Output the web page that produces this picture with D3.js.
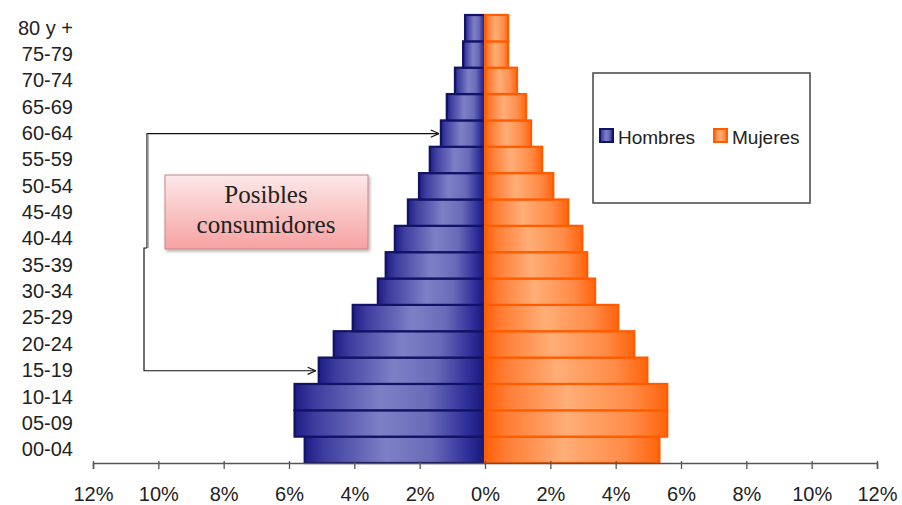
<!DOCTYPE html>
<html>
<head>
<meta charset="utf-8">
<script src="https://cdn.jsdelivr.net/npm/d3@7"></script>
<style>
  html, body { margin: 0; padding: 0; background: #fff; }
  svg { display: block; }
</style>
</head>
<body>
<svg id="chart"></svg>
<script>
// data (percent of population), bottom to top
const ageGroups = ["00-04", "05-09", "10-14", "15-19", "20-24", "25-29", "30-34", "35-39",
    "40-44", "45-49", "50-54", "55-59", "60-64", "65-69", "70-74", "75-79", "80 y +"];
const hombres = [5.52, 5.83, 5.83, 5.09, 4.63, 4.05, 3.28, 3.04, 2.76, 2.36, 2.02, 1.69, 1.35, 1.17, 0.92, 0.67, 0.61];
const mujeres = [5.34, 5.58, 5.58, 4.97, 4.57, 4.08, 3.37, 3.13, 2.98, 2.55, 2.09, 1.75, 1.41, 1.26, 0.98, 0.71, 0.71];
const xTicks = [-12, -10, -8, -6, -4, -2, 0, 2, 4, 6, 8, 10, 12];
const seriesNames = ["Hombres", "Mujeres"];
const annotationLines = ["Posibles", "consumidores"];
const arrowTargets = ["60-64", "15-19"];

const width = 902, height = 505;
const svg = d3.select('#chart').attr('width', width).attr('height', height);

// scales
const x = d3.scaleLinear().domain([-12, 12]).range([93, 877]);
const y = d3.scaleBand().domain(ageGroups.slice().reverse()).range([15, 463]).padding(0);

const rows = ageGroups.map((g, i) => ({ group: g, h: hombres[i], m: mujeres[i] }));

// gradients
const defs = svg.append('defs');
const gBlue = defs.append('linearGradient').attr('id', 'gradBlue');
[[0, '#1c1c84'], [0.1, '#3c3c9e'], [0.45, '#7e80c6'], [0.7, '#6a6bb8'], [0.9, '#30309a'], [1, '#16167a']]
    .forEach(s => gBlue.append('stop').attr('offset', s[0]).attr('stop-color', s[1]));
const gOrange = defs.append('linearGradient').attr('id', 'gradOrange');
[[0, '#ff5f08'], [0.12, '#ff7d34'], [0.45, '#ffae78'], [0.8, '#ff8c48'], [1, '#ff640c']]
    .forEach(s => gOrange.append('stop').attr('offset', s[0]).attr('stop-color', s[1]));
const gPink = defs.append('linearGradient').attr('id', 'gradPink')
    .attr('x1', 0).attr('y1', 0).attr('x2', 0).attr('y2', 1);
[[0, '#fde8e8'], [1, '#f6a2a2']]
    .forEach(s => gPink.append('stop').attr('offset', s[0]).attr('stop-color', s[1]));
const shadow = defs.append('filter').attr('id', 'shadow')
    .attr('x', '-10%').attr('y', '-10%').attr('width', '130%').attr('height', '140%');
shadow.append('feDropShadow').attr('dx', 1.5).attr('dy', 2).attr('stdDeviation', 1.5)
    .attr('flood-color', '#000').attr('flood-opacity', 0.3);
defs.append('marker').attr('id', 'arrow')
    .attr('viewBox', '0 0 10 10').attr('refX', 10).attr('refY', 5)
    .attr('markerWidth', 9).attr('markerHeight', 9).attr('markerUnits', 'userSpaceOnUse')
    .attr('orient', 'auto')
    .append('path').attr('d', 'M1,1 L10,5 L1,9').attr('fill', 'none')
    .attr('stroke', '#111').attr('stroke-width', 1.3);

// bars
svg.append('g').selectAll('rect.h')
    .data(rows).join('rect')
    .attr('class', 'h')
    .attr('x', d => x(-d.h))
    .attr('y', d => y(d.group))
    .attr('width', d => x(0) - x(-d.h))
    .attr('height', y.bandwidth())
    .attr('fill', 'url(#gradBlue)')
    .attr('stroke', '#121266')
    .attr('stroke-width', 2.2);

svg.append('g').selectAll('rect.m')
    .data(rows).join('rect')
    .attr('class', 'm')
    .attr('x', x(0))
    .attr('y', d => y(d.group))
    .attr('width', d => x(d.m) - x(0))
    .attr('height', y.bandwidth())
    .attr('fill', 'url(#gradOrange)')
    .attr('stroke', '#ff5c00')
    .attr('stroke-width', 2.2);

// x axis
const xAxis = d3.axisBottom(x)
    .tickValues(xTicks)
    .tickSize(6)
    .tickPadding(18)
    .tickFormat(d => Math.abs(d) + '%');

const gx = svg.append('g')
    .attr('transform', `translate(0,${y.range()[1]})`)
    .call(xAxis);
gx.select('.domain').attr('stroke', '#555').attr('stroke-width', 1.5);
gx.selectAll('.tick line').attr('stroke', '#555').attr('stroke-width', 1.3).attr('y1', -2);
gx.selectAll('.tick text')
    .attr('fill', '#222')
    .style('font-family', 'Liberation Sans, Arial, sans-serif')
    .style('font-size', '20px');

// y axis labels
const yAxis = d3.axisLeft(y).tickSize(0).tickPadding(8);
const gy = svg.append('g')
    .attr('transform', 'translate(81,0)')
    .call(yAxis);
gy.select('.domain').remove();
gy.selectAll('.tick text')
    .attr('fill', '#222')
    .style('font-family', 'Liberation Sans, Arial, sans-serif')
    .style('font-size', '20px');

// legend
const legend = svg.append('g');
legend.append('rect')
    .attr('x', 593).attr('y', 73).attr('width', 217).attr('height', 130)
    .attr('fill', '#fff').attr('stroke', '#444').attr('stroke-width', 1.5);
const legendFills = ['url(#gradBlue)', 'url(#gradOrange)'];
const legendStrokes = ['#121266', '#ff5c00'];
const legendX = [600, 714];
seriesNames.forEach((name, i) => {
    legend.append('rect')
        .attr('x', legendX[i]).attr('y', 129).attr('width', 13).attr('height', 13)
        .attr('fill', legendFills[i]).attr('stroke', legendStrokes[i]).attr('stroke-width', 2);
    legend.append('text')
        .attr('x', legendX[i] + 18).attr('y', 144)
        .attr('fill', '#222')
        .style('font-family', 'Liberation Sans, Arial, sans-serif')
        .style('font-size', '19px')
        .text(name);
});

// annotation box
const note = svg.append('g');
note.append('rect')
    .attr('x', 165).attr('y', 175).attr('width', 203).attr('height', 74)
    .attr('fill', 'url(#gradPink)').attr('stroke', '#c98585').attr('stroke-width', 1)
    .attr('filter', 'url(#shadow)');
annotationLines.forEach((t, i) => {
    note.append('text')
        .attr('x', 266).attr('y', 203 + i * 30)
        .attr('text-anchor', 'middle')
        .attr('fill', '#222')
        .style('font-family', 'Liberation Serif, Times New Roman, serif')
        .style('font-size', '25px')
        .text(t);
});

// connector arrows pointing at the age bands
const idx = g => ageGroups.indexOf(g);
const yTop = y(arrowTargets[0]) + y.bandwidth() / 2;
const yBot = y(arrowTargets[1]) + y.bandwidth() / 2;
const xTop = x(-hombres[idx(arrowTargets[0])]) - 2;
const xBot = x(-hombres[idx(arrowTargets[1])]) - 3;
const xLine = 147, yJog = 248;

note.append('path')
    .attr('d', `M${xLine},${yJog} L${xLine},${yTop} L${xTop},${yTop}`)
    .attr('fill', 'none').attr('stroke', '#111').attr('stroke-width', 1.2)
    .attr('marker-end', 'url(#arrow)');
note.append('line')
    .attr('x1', xLine + 1).attr('x2', xLine + 1).attr('y1', yTop + 1).attr('y2', yJog)
    .attr('stroke', '#999').attr('stroke-width', 1.5);
note.append('path')
    .attr('d', `M${xLine},${yJog} L${xLine - 3},${yJog} L${xLine - 3},${yBot} L${xBot},${yBot}`)
    .attr('fill', 'none').attr('stroke', '#111').attr('stroke-width', 1.2)
    .attr('marker-end', 'url(#arrow)');
</script>
</body>
</html>
